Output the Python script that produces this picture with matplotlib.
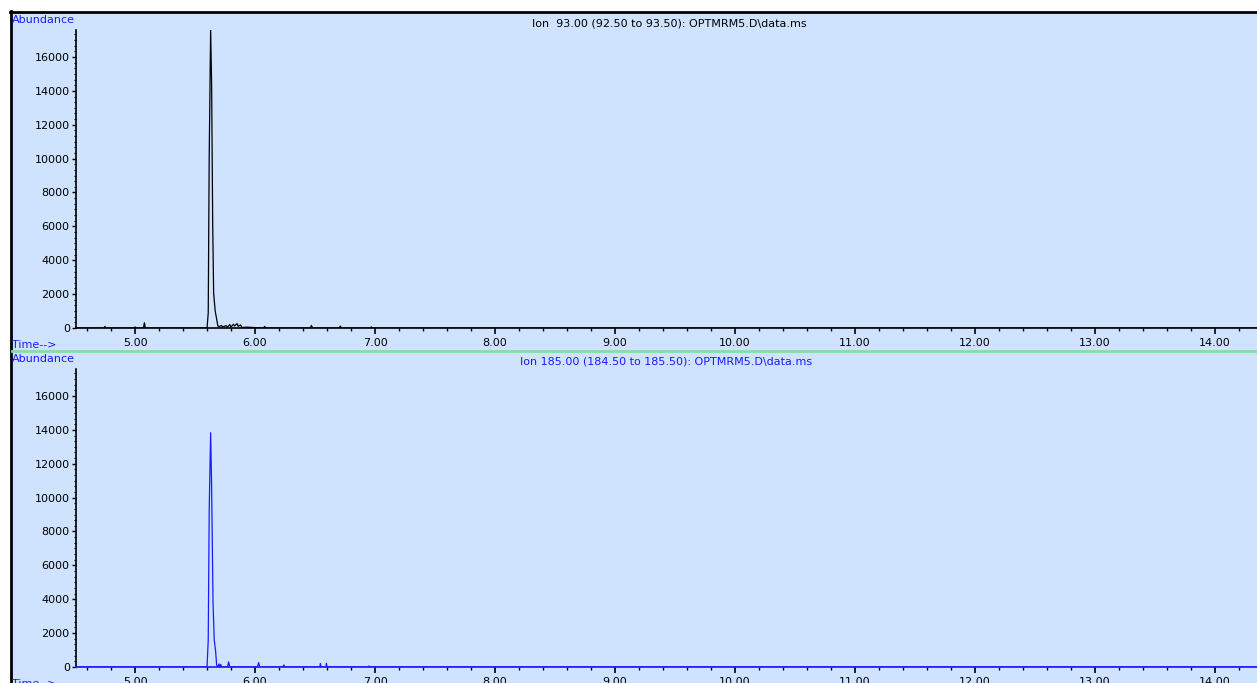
import matplotlib
matplotlib.use('Agg')
from matplotlib import pyplot as plt
from matplotlib.ticker import MultipleLocator, FormatStrFormatter
from matplotlib.lines import Line2D
from matplotlib.patches import Rectangle

# Ion 93 trace (time in min, abundance)
ion93_time = [4.51, 4.74, 4.75, 4.76, 4.99, 5.00, 5.01, 5.07, 5.078, 5.086,
              5.60, 5.610, 5.618, 5.630, 5.638, 5.647, 5.655, 5.668, 5.680,
              5.69, 5.70, 5.72, 5.73, 5.76, 5.77, 5.79, 5.80, 5.82, 5.83,
              5.85, 5.86, 5.88, 5.89, 5.93, 6.07, 6.08, 6.09, 6.46, 6.47,
              6.48, 6.70, 6.71, 6.72, 6.96, 6.97, 6.98, 14.35]
ion93_abund = [0, 0, 90, 0, 0, 60, 0, 0, 310, 0,
               0, 886, 10100, 17640, 14480, 6280, 2060, 1000, 530,
               120, 80, 150, 60, 140, 40, 200, 60, 220, 120,
               260, 100, 180, 30, 50, 0, 90, 0, 0, 150,
               0, 0, 110, 0, 0, 60, 0, 0]

# Ion 185 trace
ion185_time = [4.51, 5.60, 5.610, 5.618, 5.630, 5.638, 5.650, 5.660, 5.672,
               5.680, 5.69, 5.70, 5.705, 5.715, 5.72, 5.77, 5.78, 5.79,
               6.02, 6.03, 6.04, 6.23, 6.24, 6.25, 6.54, 6.545, 6.55,
               6.59, 6.595, 6.60, 6.94, 6.95, 6.96, 14.35]
ion185_abund = [0, 0, 1600, 9230, 13830, 10750, 3780, 1594, 900,
                120, 0, 180, 0, 150, 0, 0, 300, 0,
                0, 260, 0, 0, 120, 0, 0, 200, 0,
                0, 220, 0, 0, 60, 0, 0]

titles = ['Ion  93.00 (92.50 to 93.50): OPTMRM5.D\\data.ms',
          'Ion 185.00 (184.50 to 185.50): OPTMRM5.D\\data.ms']

W, H = 1257, 683
bg = '#cfe3ff'
blue = '#1a1aff'

fig = plt.figure(figsize=(W / 100, H / 100), dpi=100, facecolor='white')

def fx(px):
    return px / W

def fy(py):
    return 1 - py / H

# panel background and border
fig.patches.append(Rectangle((fx(11), 0), 1 - fx(11), fy(12), transform=fig.transFigure,
                             facecolor=bg, edgecolor='none', zorder=-10))
fig.lines.append(Line2D([fx(11), fx(11)], [0, fy(11)], transform=fig.transFigure,
                        color='black', lw=2))
fig.lines.append(Line2D([fx(10), 1], [fy(12), fy(12)], transform=fig.transFigure,
                        color='black', lw=2))
fig.lines.append(Line2D([fx(12), 1], [fy(351), fy(351)], transform=fig.transFigure,
                        color='#80e0a8', lw=2))

def setup(ax, color):
    ax.set_facecolor('none')
    ax.set_xlim(4.508, 14.35)
    ax.set_ylim(0, 17594)
    for s in ['top', 'right']:
        ax.spines[s].set_visible(False)
    ax.spines['left'].set_linewidth(1.2)
    ax.spines['bottom'].set_linewidth(1.2)
    ax.spines['bottom'].set_color(color)
    ax.xaxis.set_major_locator(MultipleLocator(1.0))
    ax.xaxis.set_minor_locator(MultipleLocator(0.2))
    ax.xaxis.set_major_formatter(FormatStrFormatter('%.2f'))
    ax.yaxis.set_major_locator(MultipleLocator(2000))
    ax.yaxis.set_minor_locator(MultipleLocator(2000 / 6))
    ax.tick_params(axis='x', which='major', direction='out', length=4.5, width=1.2, pad=3,
                   labelsize=8)
    ax.tick_params(axis='x', which='minor', direction='out', length=2.3, width=1)
    ax.tick_params(axis='y', which='major', direction='out', length=3, width=1, pad=1.5,
                   labelsize=8)
    ax.tick_params(axis='y', which='minor', direction='out', length=1.5, width=0.8)

ax1 = fig.add_axes([fx(76), fy(328), 1 - fx(76), fy(30) - fy(328)])
setup(ax1, 'black')
ax1.plot(ion93_time, ion93_abund, color='black', lw=0.9)

ax2 = fig.add_axes([fx(76), fy(667), 1 - fx(76), fy(369) - fy(667)])
setup(ax2, blue)
ax2.plot(ion185_time, ion185_abund, color=blue, lw=0.9)

# labels
fig.text(fx(12), fy(20), 'Abundance', color=blue, fontsize=8, va='center', ha='left')
fig.text(fx(12), fy(345), 'Time-->', color=blue, fontsize=8, va='center', ha='left')
fig.text(fx(12), fy(359), 'Abundance', color=blue, fontsize=8, va='center', ha='left')
fig.text(fx(12), fy(684), 'Time-->', color=blue, fontsize=8, va='center', ha='left')
fig.text(fx(669), fy(23), titles[0], color='black', fontsize=8, va='center', ha='center')
fig.text(fx(666), fy(362), titles[1], color=blue, fontsize=8, va='center', ha='center')

fig.savefig('out.png', dpi=100, facecolor='white')
